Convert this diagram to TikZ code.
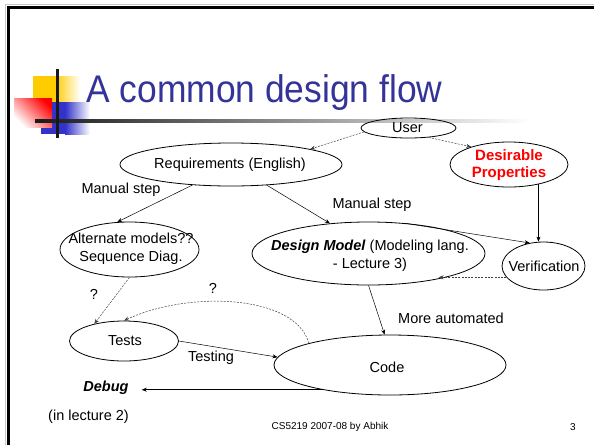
\documentclass[tikz,border=0pt]{standalone}
\usepackage{fontspec}
\setmainfont{Liberation Sans}
\newfontfamily\titlefont[FakeStretch=0.92]{Liberation Sans}
\usetikzlibrary{shapes.geometric,arrows.meta}
\definecolor{titleblue}{HTML}{333399}
\definecolor{logoyellow}{HTML}{FFCC00}
\definecolor{logoblue}{HTML}{3333CC}
\newcommand{\bodyfont}{\fontsize{14.5}{18}\selectfont}
\tikzset{
  ell/.style={ellipse, draw, line width=0.8pt, inner sep=0pt},
  lbl/.style={inner sep=0pt, font=\bodyfont, align=center},
  arr/.style={-{Stealth[length=5pt,width=4pt]}, line width=0.5pt},
  darr/.style={arr, dash pattern=on 2pt off 1.3pt, draw=black!75},
}
\begin{document}
\begin{tikzpicture}[x=1pt,y=-1pt]
\useasboundingbox (0,0) rectangle (594,445);
\fill[white] (0,0) rectangle (594,445);
% slide frame
\draw[gray!45, line width=0.8pt] (5.5,445) -- (5.5,4.5) -- (594,4.5);
\draw[line width=3pt] (8.5,445) -- (8.5,7) -- (594,7);
% logo
\fill[logoyellow] (33,76) rectangle (55,102);
\shade[left color=logoyellow, right color=white] (55,76) rectangle (80,102);
\fill[logoblue] (41,102) rectangle (65,134);
\shade[left color=logoblue, right color=white] (65,102) rectangle (90,134);
\shade[top color=red, bottom color=white, shading angle=-45] (14,98) rectangle (52,127);
\shade[left color=black!90, right color=white] (35,119.5) rectangle (530,122.5);
\fill[black!90] (55.5,69) rectangle (58.5,138);
% title
\node[anchor=base west, inner sep=0pt, text=titleblue, font=\titlefont\fontsize{38.5}{40}\selectfont] (title) at (86,102) {A common design flow};
% ellipses
\node[ell, minimum width=95, minimum height=20] (user) at (408.5,128) {};
\node[lbl] (usert) at (407.5,128) {User};
\node[ell, minimum width=222, minimum height=43] (req) at (231,164.5) {};
\node[lbl] (reqt) at (230,164.5) {Requirements (English)};
\node[ell, minimum width=118, minimum height=45] (des) at (509,164.5) {};
\node[lbl, text=red, font=\fontsize{15}{17}\selectfont\bfseries] (dest) at (509,165.5) {Desirable\\Properties};
\node[ell, minimum width=139, minimum height=55] (alt) at (129.5,249.5) {};
\node[lbl] (altt) at (131,249) {Alternate models??\\Sequence Diag.};
\node[ell, minimum width=233, minimum height=63] (design) at (368.5,253.5) {};
\node[lbl] (designt) at (370,256) {\textbf{\textit{Design Model}} (Modeling lang.\\- Lecture 3)};
\node[ell, minimum width=83, minimum height=48] (ver) at (543.5,266) {};
\node[lbl] (vert) at (544,266) {Verification};
\node[ell, minimum width=109, minimum height=40] (tests) at (124,341) {};
\node[lbl] (testst) at (125,341) {Tests};
\node[ell, minimum width=232, minimum height=60] (code) at (390,365) {};
\node[lbl] (codet) at (387,367) {Code};
% labels
\node[lbl] (ms1) at (121,190) {Manual step};
\node[lbl] (ms2) at (372,205) {Manual step};
\node[lbl] (q1) at (94,294) {?};
\node[lbl] (q2) at (213,288) {?};
\node[lbl] (auto) at (451,318) {More automated};
\node[lbl] (testing) at (211,358) {Testing};
\node[lbl, font=\bodyfont\bfseries\itshape] (debug) at (106,388) {Debug};
\node[lbl] (lect) at (88.5,417) {(in lecture 2)};
\node[inner sep=0pt, font=\fontsize{10}{12}\selectfont] (foot) at (330,427) {CS5219 2007-08 by Abhik};
\node[inner sep=0pt, font=\fontsize{10}{12}\selectfont] (pnum) at (573,427) {3};
% connectors
\draw[darr] (user.185) -- (req.11);
\draw[darr] (user.-25) -- (des.155);
\draw[arr] (req.208) -- (alt.114);
\draw[arr] (req.-30) -- (design.142);
\draw[arr] (design.40) -- (ver.121);
\draw[arr] (des.-34) -- (des.-34 |- ver.north);
\draw[darr] (ver.197) -- (ver.197 -| design.-20);
\draw[arr] (design.south) -- (code.100);
\draw[darr] (alt.south) -- (tests.150);
\draw[darr] (code.165) .. controls (296,295) and (190,290) .. (tests.north);
\draw[arr] (tests.east) -- (code.176);
\draw[arr, shorten >=13pt] (code.200) -- (code.200 -| debug.east);
\end{tikzpicture}
\end{document}
